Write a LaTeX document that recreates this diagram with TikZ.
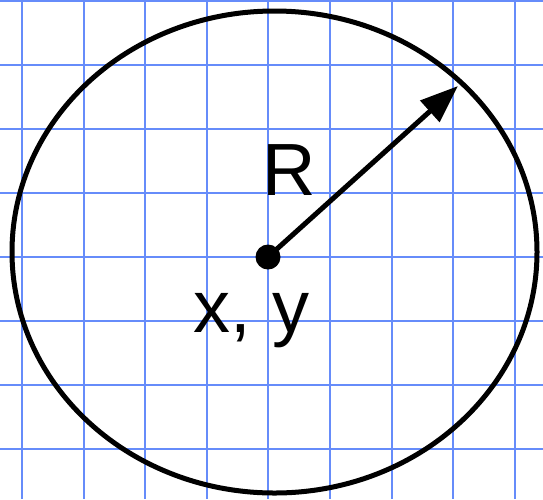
\documentclass[tikz,border=0pt]{standalone}
\usepackage{fontspec}
\setmainfont{Liberation Sans}
\usetikzlibrary{arrows.meta}

\definecolor{gridblue}{RGB}{102,140,250}

\begin{document}
\begin{tikzpicture}[
      x=1pt, y=-1pt,
      gridline/.style={draw=gridblue, line width=2pt},
      rim/.style={draw=black, line width=5pt},
      pt/.style={circle, fill=black, inner sep=0pt, minimum size=25pt},
      lab/.style={inner sep=0pt, anchor=base, font=\fontsize{74}{80}\selectfont},
      arr/.style={-{Triangle[length=38pt,width=28pt]}, line width=5pt},
    ]
    \useasboundingbox (0,0) rectangle (543,499);

    % grid paper
    \foreach \i in {0,...,8}
      \draw[gridline] ({22+61.6*\i},0) -- ({22+61.6*\i},499);
    \foreach \j in {0,...,7}
      \draw[gridline] (0,{1+64*\j}) -- (543,{1+64*\j});

    % circle, centre and radius
    \draw[rim] (274.5,252) ellipse [x radius=262.5, y radius=241];
    \node[pt] (ctr) at (268,257) {};
    \coordinate (tip) at (458,86);
    \draw[arr] (ctr.center) -- (tip);

    \node[lab] (rlab) at (289.5,195) {R};
    \node[lab] (xylab) at (251.5,332) {x, y};
\end{tikzpicture}
\end{document}
